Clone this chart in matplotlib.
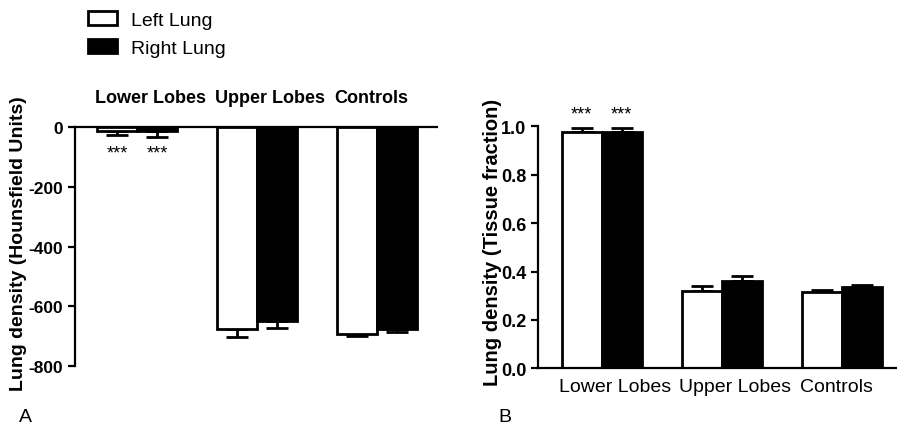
import numpy as np
import matplotlib
matplotlib.use('Agg')
import matplotlib.pyplot as plt
from matplotlib.patches import Patch

plt.rcParams['font.family'] = ['Liberation Sans', 'DejaVu Sans']
plt.rcParams['axes.unicode_minus'] = False

groups = ['Lower Lobes', 'Upper Lobes', 'Controls']
series = ['Left Lung', 'Right Lung']

# panel A: Hounsfield units (mean, one-sided error)
hu_left = [-13, -675, -692]
hu_left_err = [14, 28, 8]
hu_right = [-15, -650, -675]
hu_right_err = [17, 22, 11]

# panel B: tissue fraction
tf_left = [0.975, 0.321, 0.314]
tf_left_err = [0.016, 0.020, 0.008]
tf_right = [0.975, 0.359, 0.335]
tf_right_err = [0.016, 0.024, 0.010]

# significance marks per series
sig_left = ['***', '', '']
sig_right = ['***', '', '']

fig = plt.figure(figsize=(8.97, 4.27), dpi=100)
axA = fig.add_axes([0.0836, 0.1405, 0.4036, 0.5597])
axB = fig.add_axes([0.5998, 0.1351, 0.3992, 0.5668])

w = 1 / 3
x = np.arange(len(groups))
colors = ['white', 'black']


def draw_bars(ax, vals, errs, negative):
    for i, (v, e) in enumerate(zip(vals, errs)):
        xs = x + (i - 0.5) * w
        ax.bar(xs, v, width=w, color=colors[i], edgecolor='black',
               linewidth=2, zorder=2)
        zeros = np.zeros(len(v))
        yerr = [e, zeros] if negative else [zeros, e]
        ax.errorbar(xs, v, yerr=yerr, fmt='none', ecolor='black',
                    elinewidth=2, capsize=8, capthick=2, zorder=1)


draw_bars(axA, [hu_left, hu_right], [hu_left_err, hu_right_err], True)
draw_bars(axB, [tf_left, tf_right], [tf_left_err, tf_right_err], False)

# panel A styling
axA.set_xlim(-0.517, 2.5)
axA.set_ylim(-800, 0)
axA.set_yticks([0, -200, -400, -600, -800])
axA.spines['bottom'].set_visible(False)
axA.spines['right'].set_visible(False)
for s in ['top', 'left']:
    axA.spines[s].set_linewidth(1.6)
axA.set_xticks([])
axA.tick_params(axis='y', width=1.6, length=5, labelsize=12.5)
for lab in axA.get_yticklabels():
    lab.set_fontweight('bold')
axA.set_ylabel('Lung density (Hounsfield Units)', fontsize=14, fontweight='bold')
axA.yaxis.set_label_coords(-0.133, 0.515)
for j, g in enumerate(groups):
    axA.text(x[j] - w - 0.02, 100, g, ha='left', va='center', fontsize=13,
             fontweight='bold', clip_on=False)
for i, marks in enumerate([sig_left, sig_right]):
    for j, m in enumerate(marks):
        if m:
            axA.text(x[j] + (i - 0.5) * w, -88, m, ha='center', va='center',
                     fontsize=13)

# panel B styling
axB.set_xlim(-0.53, 2.45)
axB.set_ylim(0, 1.0)
axB.set_yticks([0.0, 0.2, 0.4, 0.6, 0.8, 1.0])
axB.set_yticklabels(['0.0', '0.2', '0.4', '0.6', '0.8', '1.0'])
axB.spines['top'].set_visible(False)
axB.spines['right'].set_visible(False)
for s in ['bottom', 'left']:
    axB.spines[s].set_linewidth(1.6)
axB.set_xticks([])
axB.tick_params(axis='y', width=1.6, length=5, labelsize=13)
for lab in axB.get_yticklabels():
    lab.set_fontweight('bold')
axB.set_ylabel('Lung density (Tissue fraction)', fontsize=14.5, fontweight='bold')
axB.yaxis.set_label_coords(-0.10, 0.526)
for j, g in enumerate(groups):
    axB.text(x[j] - w - 0.02, -0.075, g, ha='left', va='center', fontsize=14,
             clip_on=False)
for i, marks in enumerate([sig_left, sig_right]):
    for j, m in enumerate(marks):
        if m:
            axB.text(x[j] + (i - 0.5) * w, 1.052, m, ha='center', va='center',
                     fontsize=13, clip_on=False)

fig.text(25 / 897, 1 - 418 / 427, 'A', ha='center', va='center', fontsize=14)
fig.text(505 / 897, 1 - 418 / 427, 'B', ha='center', va='center', fontsize=14)

handles = [Patch(facecolor=c, edgecolor='black', linewidth=2) for c in colors]
fig.legend(handles, series, loc='upper left', bbox_to_anchor=(88 / 897, 1 - 12 / 427),
           frameon=False, fontsize=14, borderpad=0, borderaxespad=0,
           handlelength=1.5, handleheight=0.7, handletextpad=0.7,
           labelspacing=0.55)

fig.savefig('out.png', dpi=100)
